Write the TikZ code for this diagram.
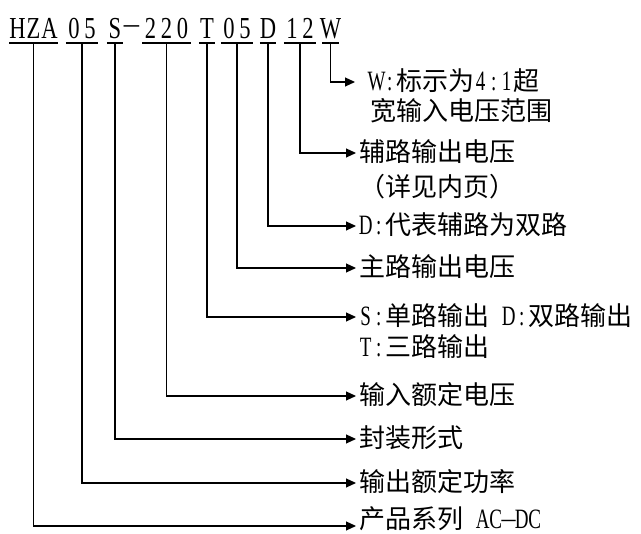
\documentclass[tikz,border=0pt]{standalone}
\usepackage{fontspec}
\usepackage{graphicx}
\newfontfamily\cjk{Noto Sans CJK SC}
\newfontfamily\latf{Liberation Serif}
\usetikzlibrary{arrows.meta}
\newcommand\tc[1]{\makebox[16pt]{\scalebox{0.74}[1]{#1}}}
\newcommand\lc[1]{\makebox[13pt]{\latf\fontsize{28}{30}\selectfont\scalebox{0.68}[1]{#1}}}
\newcommand\ldash{\makebox[13pt]{\latf\fontsize{28}{30}\selectfont\raisebox{1pt}{–}}}
\begin{document}
\begin{tikzpicture}[x=1pt,y=-1pt,
  conn/.style={line width=1.1pt,-{Triangle[length=10pt,width=9pt]}},
  uline/.style={line width=1.1pt},
  seg/.style={anchor=south,inner sep=0pt,minimum height=29pt,text height=20pt,text depth=0pt,font=\latf\fontsize{30.5}{32}\selectfont},
  lab/.style={anchor=west,inner xsep=3pt,inner ysep=0pt,text height=21pt,text depth=3pt,font=\cjk\fontsize{26}{30}\selectfont}]
\useasboundingbox (0,0) rectangle (641,534);

% code segments
\node[seg,minimum width=47pt] (hza) at (33.5,43) {\tc{H}\tc{Z}\tc{A}};
\node[seg,minimum width=32pt] (p05) at (82,43) {\tc{0}\tc{5}};
\node[seg,minimum width=16pt] (s) at (115,43) {\tc{S}};
\node[seg] (dash) at (131.5,43) {\makebox[17pt]{\raisebox{5pt}{–}}};
\node[seg,minimum width=47pt] (v220) at (166.5,43) {\tc{2}\tc{2}\tc{0}};
\node[seg,minimum width=16pt] (t) at (207,43) {\tc{T}};
\node[seg,minimum width=32pt] (q05) at (237,43) {\tc{0}\tc{5}};
\node[seg,minimum width=16pt] (d) at (268,43) {\tc{D}};
\node[seg,minimum width=32pt] (v12) at (300,43) {\tc{1}\tc{2}};
\node[seg,minimum width=16pt] (w) at (330.5,43) {\tc{W}};
\foreach \n in {hza,p05,s,v220,t,q05,d,v12,w}
  \draw[uline] (\n.south west) -- (\n.south east);

% labels
\node[lab] (lw1) at (367,82) {\lc{W}\lc{:}标示为\lc{4}\lc{:}\lc{1}超};
\node[lab] (lw2) at (367,112) {宽输入电压范围};
\node[lab] (l12a) at (356,153) {辅路输出电压};
\node[lab] (l12b) at (356,188) {（详见内页）};
\node[lab] (ld) at (356,226) {\lc{D}\lc{:}代表辅路为双路};
\node[lab] (lq05) at (356,268) {主路输出电压};
\node[lab] (lt1) at (356,317) {\lc{S}\lc{:}单路输出\hspace{13pt}\lc{D}\lc{:}双路输出};
\node[lab] (lt2) at (356,348) {\lc{T}\lc{:}三路输出};
\node[lab] (l220) at (356,396) {输入额定电压};
\node[lab] (ls) at (356,439) {封装形式};
\node[lab] (lp05) at (356,483) {输出额定功率};
\node[lab] (lhza) at (356,520) {产品系列\hspace{13pt}\lc{A}\lc{C}\ldash\lc{D}\lc{C}};

% connectors
\draw[conn] (w.south) |- ([xshift=-12pt]lw1.west);
\draw[conn] (v12.south) |- (l12a.west);
\draw[conn] (d.south) |- (ld.west);
\draw[conn] (q05.south) |- (lq05.west);
\draw[conn] (t.south) |- (lt1.west);
\draw[conn] (v220.south) |- (l220.west);
\draw[conn] (s.south) |- (ls.west);
\draw[conn] (p05.south) |- (lp05.west);
\draw[conn] (hza.south) |- ([yshift=-6pt]lhza.west);
\end{tikzpicture}
\end{document}
